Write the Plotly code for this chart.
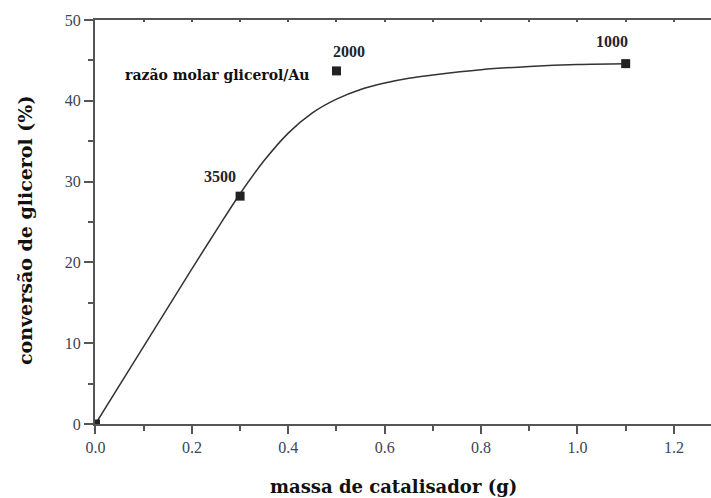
import plotly.graph_objects as go

# Data
mass_pts = [0.0, 0.3, 0.5, 1.1]
conv_pts = [0.0, 28.2, 43.7, 44.6]
ratio_labels = ["", "3500", "2000", "1000"]

curve_x = [0, 0.1, 0.2, 0.25, 0.3, 0.35, 0.4, 0.45, 0.5, 0.55, 0.6, 0.65, 0.7,
           0.8, 0.9, 1.0, 1.1]
curve_y = [0, 9.6, 19.2, 23.9, 28.5, 32.6, 36.0, 38.5, 40.2, 41.4, 42.2, 42.8, 43.2,
           43.85, 44.25, 44.5, 44.6]

x_ticks = [0.0, 0.2, 0.4, 0.6, 0.8, 1.0, 1.2]
x_tick_text = ["0.0", "0.2", "0.4", "0.6", "0.8", "1.0", "1.2"]
y_ticks = [0, 10, 20, 30, 40, 50]

W, H = 711, 498
L, T, B = 95, 20, 74
SERIF = "Liberation Serif, Times New Roman, Times, serif"
TITLE_FONT = "DejaVu Serif, serif"

fig = go.Figure()
fig.add_trace(go.Scatter(x=curve_x, y=curve_y, mode="lines",
                         line=dict(color="#333333", width=1.5, shape="spline", smoothing=1.0),
                         showlegend=False, hoverinfo="skip"))
fig.add_trace(go.Scatter(x=mass_pts, y=conv_pts, mode="markers",
                         marker=dict(symbol="square", size=9, color="#222222"),
                         showlegend=False))
# invisible trace to activate top axis
fig.add_trace(go.Scatter(x=[0, 1.2], y=[None, None], xaxis="x2", mode="markers",
                         showlegend=False, hoverinfo="skip"))

label_offsets = {"3500": (-20, 20), "2000": (13, 19), "1000": (-14, 22)}
for xv, yv, lab in zip(mass_pts, conv_pts, ratio_labels):
    if not lab:
        continue
    dx, dy = label_offsets[lab]
    fig.add_annotation(x=xv, y=yv, text="<b>" + lab + "</b>", showarrow=False,
                       xshift=dx, yshift=dy,
                       font=dict(family=SERIF, size=16, color="#1e2430"),
                       xanchor="center", yanchor="middle")
fig.add_annotation(x=0.5, y=43.7, text="<b>razão molar glicerol/Au</b>", showarrow=False,
                   xshift=-119, yshift=-4, xanchor="center", yanchor="middle",
                   font=dict(family=TITLE_FONT, size=14, color="#111111"))

fig.add_annotation(xref="paper", yref="paper", x=(393 - L) / (W - L), y=-(487 - (H - B)) / (H - B - T),
                   text="<b>massa de catalisador (g)</b>", showarrow=False,
                   xanchor="center", yanchor="middle",
                   font=dict(family=TITLE_FONT, size=18, color="#111111"))
fig.add_annotation(xref="paper", yref="paper", x=-(L - 25) / (W - L), y=(H - B - 231) / (H - B - T),
                   text="<b>conversão de glicerol (%)</b>", showarrow=False, textangle=-90,
                   xanchor="center", yanchor="middle",
                   font=dict(family=TITLE_FONT, size=19, color="#111111"))

fig.update_layout(
    width=W, height=H,
    margin=dict(l=L, r=0, t=T, b=B, pad=0),
    paper_bgcolor="white", plot_bgcolor="white",
    xaxis=dict(range=[-0.001, 1.277], tickvals=x_ticks, ticktext=x_tick_text,
               ticks="outside", ticklen=8, tickwidth=1.5, tickcolor="#555555",
               showline=True, linecolor="#555555", linewidth=2, mirror=True,
               showgrid=False, zeroline=False,
               tickfont=dict(family=SERIF, size=16, color="#3b4458"),
               minor=dict(dtick=0.1, tick0=0, ticks="outside", ticklen=5, tickwidth=1.5,
                          tickcolor="#555555", showgrid=False)),
    xaxis2=dict(overlaying="x", side="top", range=[-0.001, 1.277], dtick=0.1, tick0=0,
                ticks="inside", ticklen=2, tickwidth=1.5, tickcolor="#555555",
                showticklabels=False, showgrid=False, zeroline=False, showline=False),
    yaxis=dict(range=[0, 50], tickvals=y_ticks,
               ticks="outside", ticklen=9, tickwidth=1.5, tickcolor="#555555",
               showline=True, linecolor="#555555", linewidth=2,
               showgrid=False, zeroline=False,
               tickfont=dict(family=SERIF, size=16, color="#3b4458"),
               minor=dict(dtick=5, tick0=0, ticks="outside", ticklen=5, tickwidth=1.5,
                          tickcolor="#555555", showgrid=False)),
)

fig.write_html("out.html")
